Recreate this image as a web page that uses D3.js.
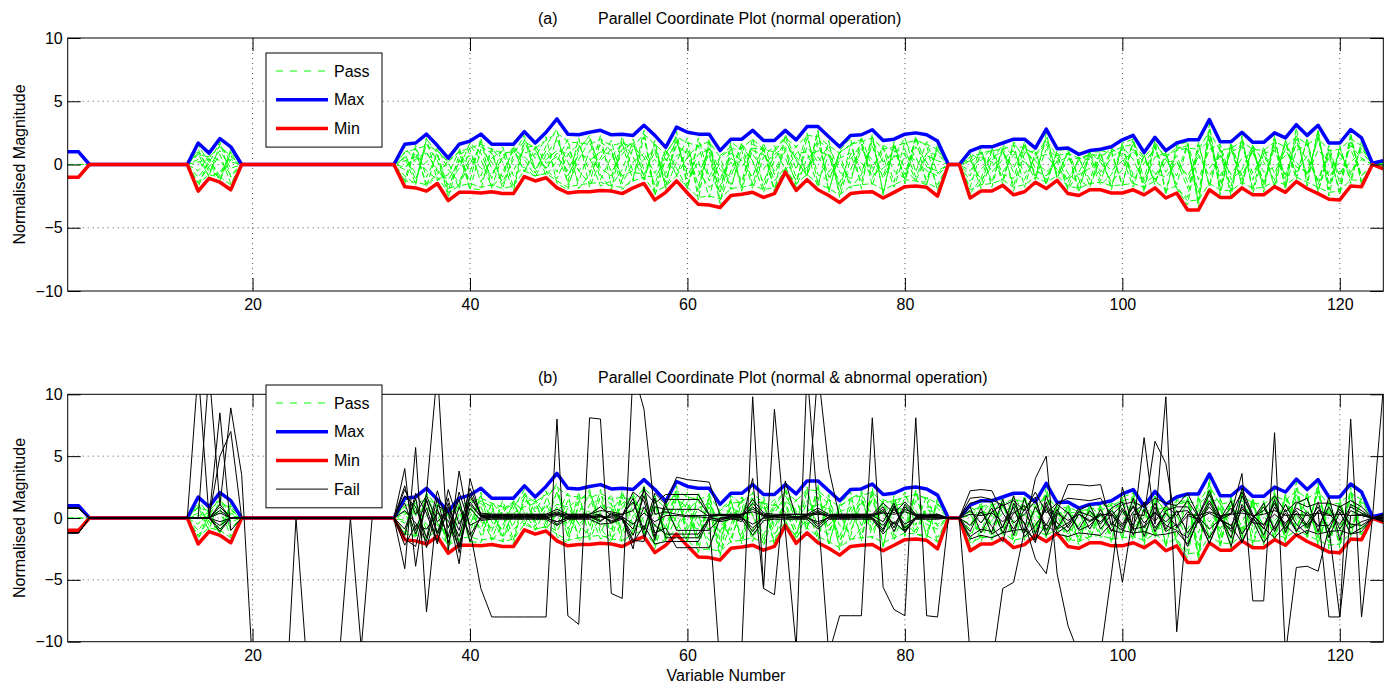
<!DOCTYPE html>
<html>
<head>
<meta charset="utf-8">
<script src="https://cdn.jsdelivr.net/npm/d3@7"></script>
<style>
  body { margin: 0; background: #fff; }
  text { font-family: "Liberation Sans", Arial, sans-serif; fill: #000; }
</style>
</head>
<body>
<div id="chart"></div>
<script>
// variable numbers on the x axis
var variables = d3.range(3, 125);
var xTicks = [20, 40, 60, 80, 100, 120];
var yTicks = [-10, -5, 0, 5, 10];

// envelope of the normal (pass) records
var maxLine = [1.0, 1.0, 0,0,0,0,0,0,0,0,0,0, 1.7, 0.9, 2.05, 1.4, 0,0,0,0,0,0,0,0,0,0,0,0,0,0,0,
  1.6, 1.7, 2.4, 1.5, 0.5, 1.6, 1.85, 2.4, 1.6, 1.6, 1.6, 2.6, 1.7, 2.55, 3.6, 2.4, 2.35, 2.55, 2.7, 2.35,
  2.4, 2.3, 3.1, 2.3, 1.35, 2.95, 2.55, 2.4, 2.4, 1.1, 2.0, 2.0, 2.7, 1.9, 1.9, 2.7, 1.95, 3.0, 3.0, 2.2,
  1.4, 2.3, 2.35, 2.75, 1.9, 2.0, 2.4, 2.5, 2.35, 1.85,
  0, 0,
  1.05, 1.4, 1.4, 1.7, 2.0, 2.0, 1.3, 2.8, 1.25, 1.3, 0.8, 1.1, 1.2, 1.4, 1.95, 2.3, 0.95, 2.15, 1.1, 1.7,
  1.95, 1.95, 3.55, 1.8, 1.8, 2.55, 1.75, 1.75, 2.5, 2.1, 3.15, 2.3, 3.1, 1.7, 1.7, 2.75, 2.1,
  0.1, 0.3];
var minLine = [-1.0, -1.0, 0,0,0,0,0,0,0,0,0,0, -2.1, -1.1, -1.4, -2.0, 0,0,0,0,0,0,0,0,0,0,0,0,0,0,0,
  -1.75, -1.85, -2.1, -1.5, -2.85, -2.2, -2.2, -2.25, -2.15, -2.3, -2.3, -0.95, -1.3, -1.05, -1.85, -2.25, -2.15, -2.15, -2.05, -2.1,
  -2.3, -1.85, -1.5, -2.8, -2.2, -1.3, -2.25, -3.15, -3.2, -3.4, -2.45, -2.35, -2.2, -2.6, -2.3, -0.6, -2.05, -1.2, -2.0, -2.45,
  -3.0, -2.3, -2.2, -2.15, -2.65, -2.2, -1.75, -1.7, -1.8, -2.5,
  0, 0,
  -2.65, -2.1, -2.1, -1.65, -2.4, -2.15, -1.4, -1.9, -1.25, -2.3, -2.45, -2.0, -2.0, -2.25, -2.25, -2.0, -2.4, -1.85, -2.65, -2.25,
  -3.6, -3.6, -2.0, -2.6, -2.6, -1.85, -2.4, -2.4, -1.75, -2.2, -1.35, -1.9, -2.3, -2.75, -2.8, -1.7, -1.75,
  0, -0.35];

// individual pass records
var pass1 = [1, 1, 0,0,0,0,0,0,0,0,0,0, 1.2, -0.6, 0.8, -1.5, 0,0,0,0,0,0,0,0,0,0,0,0,0,0,0,
  0.9, -1.2, 1.6, 0.3, -2.1, 0.8, 1.2, -1.4, 0.5, 1.1, -1.8, 2.0, -0.7, 1.5, 2.8, -1.6, 0.4, 1.9, -1.2, 0.6,
  1.7, -1.3, 2.2, -2.1, 0.9, 2.1, -1.5, 0.3, -2.6, 0.7, 1.4, -1.8, 2.1, -1.9, 1.2, 2.2, -0.4, 2.5, -1.5, 0.8,
  -2.2, 1.6, 2.0, -1.7, 1.3, -1.4, 1.8, 0.6, -1.2, 1.1,
  0, 0,
  -1.8, 1.0, -1.4, 1.2, -1.7, 1.5, -0.9, 2.1, -0.8, 0.9, -1.9, 0.7, -1.3, 1.1, -1.6, 1.8, -1.9, 1.5, -2.1, 1.2,
  1.5, -3.0, 2.8, -2.1, 1.4, -1.2, 1.3, -1.9, 2.0, -1.5, 2.4, -1.3, 2.6, -2.0, 1.3, -1.2, 1.6,
  0, 0.2];
var pass2 = [-1, -1, 0,0,0,0,0,0,0,0,0,0, -1.8, 0.5, -1.2, 0.9, 0,0,0,0,0,0,0,0,0,0,0,0,0,0,0,
  -1.5, 1.3, -1.8, 1.1, 0.2, -1.9, 1.5, 0.4, -1.8, 0.7, 1.3, -0.6, 1.4, -0.9, 0.3, 2.0, -1.9, -0.8, 2.3, -1.7,
  -0.4, 1.8, -1.2, 1.6, -1.9, 0.2, 2.1, -2.8, 1.8, -2.9, -0.5, 1.7, -1.6, 1.4, -2.0, -0.3, 1.5, -0.9, 2.6, -2.1,
  0.9, -1.9, -0.8, 2.2, -2.3, 1.6, -1.2, 2.0, 1.5, -2.1,
  0, 0,
  0.8, -1.6, 1.1, -1.2, 1.6, -1.8, 1.0, -1.5, 0.9, -1.9, 0.6, -1.7, 0.9, -1.8, 1.7, -1.5, 0.7, -1.4, 0.8, -1.9,
  -3.2, 1.6, -1.6, 1.5, -2.2, 2.1, -2.0, 1.4, -1.9, 1.7, -1.2, 2.1, -2.1, 1.2, -2.4, 2.2, -1.4,
  0, -0.2];
var pass3 = [0, 0, 0,0,0,0,0,0,0,0,0,0, 0.4, -0.9, 1.6, 0.2, 0,0,0,0,0,0,0,0,0,0,0,0,0,0,0,
  0.3, 0.6, -0.5, -1.2, -0.8, 1.1, -0.6, 1.8, -0.3, -1.4, 0.4, 0.9, 1.2, -0.5, -1.1, 0.8, 1.6, -0.6, 0.5, 1.9,
  -1.5, 0.2, 0.9, -0.7, 1.1, -0.9, 0.6, 1.5, -1.3, 0.1, -1.6, 0.6, 0.8, -0.4, 1.1, 0.5, -1.3, 1.4, 0.2, 1.5,
  -0.6, -1.1, 1.2, 0.4, -0.9, 1.4, -0.3, -1.3, 0.7, 0.3,
  0, 0,
  0.2, 0.9, -0.6, 0.4, 1.1, -0.7, 0.5, 0.8, -0.4, -1.1, 0.3, 0.8, -0.9, 0.6, 1.2, -0.8, 0.1, 1.3, -0.6, 0.7,
  -1.4, 1.1, 1.9, -0.9, 1.0, 1.4, -0.7, 0.9, 1.1, -0.8, 1.6, 0.4, -1.2, 1.0, -0.9, 1.5, 0.5,
  0, 0.1];
var pass4 = [-1, -1, 0,0,0,0,0,0,0,0,0,0, 1.5, 0.2, -1.3, 1.2, 0,0,0,0,0,0,0,0,0,0,0,0,0,0,0,
  -0.9, -1.6, 2.1, -1.3, 0.4, 1.4, -1.9, -2.0, 1.3, 0.2, -2.1, 1.7, 0.5, 2.2, -1.5, -2.0, 1.2, 2.3, -0.8, -2.0,
  1.9, 0.6, -1.3, 1.9, -1.8, 2.6, -1.9, 1.8, 0.8, -3.1, 1.5, -2.1, 1.3, 1.2, -2.2, 2.4, 0.3, -0.8, 2.7, -2.2,
  1.1, 2.1, -1.9, 2.4, -2.4, 1.8, -1.5, 2.2, -1.6, 1.6,
  0, 0,
  -2.3, -1.1, 1.2, -1.5, 1.8, 0.4, -1.2, 2.5, -1.1, 1.1, -2.2, 1.0, 1.0, -2.0, 1.7, 2.0, -2.2, 1.9, -2.4, 1.5,
  1.8, -3.4, 3.2, -2.4, 1.6, -1.7, 1.6, -2.2, 2.3, -2.0, 2.9, -1.7, 2.8, -2.5, 1.5, -1.5, 1.9,
  0, 0.3];
var pass5 = [1, 1, 0,0,0,0,0,0,0,0,0,0, -0.5, 0.7, 0.3, -0.8, 0,0,0,0,0,0,0,0,0,0,0,0,0,0,0,
  1.4, 0.2, 0.9, -0.4, -1.6, -0.3, 1.7, 0.9, -1.1, 1.4, -0.9, -0.2, -1.0, 0.8, 1.9, 0.2, -1.3, 1.1, 1.5, -0.6,
  0.8, 2.0, -0.4, 0.4, -0.7, 1.5, 0.9, -2.2, 2.0, -1.8, 0.9, 0.3, -1.0, 1.7, -0.8, 1.1, -1.6, 2.2, -0.8, -1.3,
  1.0, 1.5, -0.6, 1.5, -1.1, 0.7, 2.1, -0.6, 1.8, -0.7,
  0, 0,
  0.9, 0.3, 1.3, -0.8, -1.1, 1.8, -1.1, 1.2, 0.6, -1.4, 0.5, -1.2, 1.1, 0.9, -1.7, 2.1, -1.3, 0.6, 0.9, -1.6,
  1.6, -2.8, 2.4, -1.4, 1.7, -0.9, 1.1, -1.4, 1.7, -1.1, 2.0, -0.9, 2.2, -1.6, 1.0, -0.8, 1.3,
  0, -0.1];
var pass6 = [-1, -1, 0,0,0,0,0,0,0,0,0,0, 0.9, -1.0, -0.6, 0.6, 0,0,0,0,0,0,0,0,0,0,0,0,0,0,0,
  -1.2, 1.5, -1.0, 0.8, -2.6, 0.4, -1.3, 2.1, -1.9, -0.6, 1.1, -0.5, 0.9, -0.3, 0.9, -1.4, 2.1, -1.8, 0.3, 1.2,
  -2.0, -1.1, 2.7, -2.5, 0.5, -0.8, 1.3, -1.7, 1.0, -2.3, 1.8, 1.1, -1.9, 0.6, 1.5, -0.5, 0.9, 1.0, -1.8, 1.9,
  -2.6, 0.4, 1.6, -1.1, 0.6, -1.8, 0.8, -1.3, -1.6, 1.4,
  0, 0,
  -0.9, 1.3, -1.8, 1.5, -2.1, 0.9, 1.1, -1.6, 1.1, 1.2, -1.2, -1.8, 0.5, 1.3, 0.6, -1.8, 0.8, -1.6, 1.0, -2.0,
  -2.6, 1.8, -1.8, 1.2, -2.5, 2.3, -2.3, 0.9, -1.6, 1.9, -0.9, 1.9, -2.2, 0.8, -2.1, 2.5, -1.6,
  0, 0.1];
var pass7 = [1, 1, 0,0,0,0,0,0,0,0,0,0, -1.4, -0.2, 1.1, -0.3, 0,0,0,0,0,0,0,0,0,0,0,0,0,0,0,
  0.6, -0.7, 0.2, 1.3, -0.4, -1.4, 0.5, -0.9, 1.2, -1.9, 0.8, 2.3, -0.4, 1.1, -0.6, 1.4, -0.5, -1.5, 1.8, 1.1,
  -1.2, 1.3, 0.6, -1.6, 1.2, -0.3, -1.9, 2.1, -1.0, 0.6, -2.0, 1.4, 0.3, -2.2, 0.4, 1.8, 0.4, -0.9, 1.7, -1.0,
  0.3, -1.5, 2.2, -0.3, 1.4, -0.5, -1.1, 1.4, 0.2, -1.6,
  0, 0,
  -1.3, -0.4, 0.6, 1.0, -0.6, -1.2, 0.7, 1.7, -1.0, 0.4, 0.5, 0.4, -1.6, -0.8, 1.4, 0.4, -1.5, -0.9, 0.5, 1.4,
  1.2, -2.2, 2.0, -1.8, 1.2, -1.5, 1.4, -1.6, 1.4, -1.8, 1.1, 1.6, -1.6, 1.5, -1.5, 1.9, -0.9,
  0, 0.2];
var pass8 = [-1, -1, 0,0,0,0,0,0,0,0,0,0, 0.2, 0.4, -0.9, 1.0, 0,0,0,0,0,0,0,0,0,0,0,0,0,0,0,
  -0.4, 0.9, -1.5, -0.8, 0.3, 1.0, -2.0, 1.2, 0.2, -1.0, 1.4, 0.4, -0.9, -0.7, 2.2, -0.9, 0.8, 0.5, -1.7, -1.3,
  2.2, -0.6, -0.8, 1.0, -1.4, 1.8, -0.6, -0.9, 1.3, -1.2, 0.2, -1.3, 1.6, 1.1, -1.3, -0.2, -1.8, 0.5, 1.1, 0.7,
  -1.5, 0.8, -1.4, 1.9, 0.2, 1.0, 1.2, -1.0, 0.9, 0.8,
  0, 0,
  0.5, -1.9, 0.3, 1.6, 0.6, 0.2, -0.5, -0.9, 0.3, -2.0, -0.6, 1.0, 0.2, -1.4, -0.4, 1.2, 0.5, -1.2, 0.2, 0.3,
  -1.9, 0.8, -0.9, 0.7, -1.7, 1.7, -1.2, 1.2, -0.7, 1.2, -0.6, 0.7, -1.4, -0.6, 0.9, -0.6, 0.4,
  0, 0];
var pass9 = [1, 1, 0,0,0,0,0,0,0,0,0,0, 0.8, 0.6, 1.4, 0.7, 0,0,0,0,0,0,0,0,0,0,0,0,0,0,0,
  1.0, 1.2, 1.5, 1.1, 0.2, 1.0, 1.3, 1.6, 1.2, 0.9, 1.0, 1.8, 1.3, 1.9, 2.5, 1.8, 1.7, 1.6, 2.0, 1.5,
  1.7, 1.4, 2.4, 1.6, 0.8, 2.2, 1.7, 1.5, 1.8, 0.6, 1.2, 1.3, 2.0, 1.2, 1.0, 2.1, 1.4, 2.3, 2.2, 1.5,
  0.9, 1.6, 1.8, 2.1, 1.2, 1.4, 1.7, 1.9, 1.6, 1.2,
  0, 0,
  0.6, 0.9, 1.1, 1.2, 1.5, 1.3, 0.8, 1.9, 0.7, 0.9, 0.5, 0.8, 0.7, 1.0, 1.4, 1.6, 0.6, 1.5, 0.7, 1.1,
  1.3, 1.2, 2.6, 1.1, 1.3, 1.8, 1.2, 1.1, 1.8, 1.4, 2.2, 1.6, 2.1, 1.1, 1.2, 2.0, 1.5,
  0, 0.2];
var pass10 = [-1, -1, 0,0,0,0,0,0,0,0,0,0, -1.5, -0.8, -1.0, -1.6, 0,0,0,0,0,0,0,0,0,0,0,0,0,0,0,
  -1.3, -1.4, -1.6, -1.0, -2.2, -1.7, -1.5, -1.8, -1.6, -1.9, -1.7, -0.5, -0.9, -0.7, -1.3, -1.8, -1.6, -1.5, -1.4, -1.7,
  -1.8, -1.3, -1.0, -2.2, -1.7, -0.9, -1.8, -2.6, -2.5, -2.7, -1.9, -1.8, -1.6, -2.0, -1.8, -0.4, -1.5, -0.8, -1.5, -1.9,
  -2.4, -1.7, -1.6, -1.5, -2.0, -1.6, -1.2, -1.3, -1.4, -1.9,
  0, 0,
  -2.0, -1.6, -1.5, -1.2, -1.8, -1.6, -1.0, -1.4, -0.9, -1.7, -1.9, -1.5, -1.4, -1.7, -1.6, -1.5, -1.8, -1.3, -2.0, -1.7,
  -2.9, -2.8, -1.5, -2.0, -2.1, -1.4, -1.9, -1.8, -1.3, -1.6, -1.0, -1.4, -1.8, -2.2, -2.1, -1.2, -1.3,
  0, -0.2];
var pass11 = [0, 0, 0,0,0,0,0,0,0,0,0,0, 1.0, -0.3, -1.1, 0.4, 0,0,0,0,0,0,0,0,0,0,0,0,0,0,0,
  -0.2, 0.4, 1.0, -0.6, -1.2, 0.2, 0.7, -0.3, -0.8, 0.5, 1.2, 0.6, -0.2, 0.4, 1.1, 0.9, -0.5, 0.3, 1.0, 0.8,
  -0.9, -0.5, 0.4, 1.2, -1.0, 0.7, 1.1, -0.5, -1.8, -1.1, 0.5, -0.2, 1.1, 0.8, -0.5, 1.3, -1.0, -0.2, 0.6, -0.6,
  0.5, 0.9, 0.1, -0.8, -0.3, 0.6, 0.9, 0.3, -0.5, -0.9,
  0, 0,
  -0.5, 0.6, 0.2, -0.6, 0.8, 1.0, 0.3, -0.6, 0.2, 0.6, -0.8, -0.3, 0.4, -0.5, 0.3, 1.0, 0.2, -0.7, -1.0, 0.2,
  -0.9, 0.6, -0.3, 0.8, -0.8, 0.5, 0.9, -0.6, -0.2, 0.7, 0.2, -0.8, 1.1, 0.4, -0.6, 0.2, 1.0,
  0, 0];
var pass12 = [1, 1, 0,0,0,0,0,0,0,0,0,0, -1.0, 0.1, 1.8, -1.0, 0,0,0,0,0,0,0,0,0,0,0,0,0,0,0,
  0.5, -1.5, 2.0, 0.9, -1.9, -1.6, 0.1, 1.4, 0.9, -1.5, -0.5, 1.3, 1.5, 0.1, 0.6, -0.5, 1.4, 2.1, -0.3, -0.9,
  1.2, 1.7, -0.9, -1.0, 0.2, 1.9, -0.9, 0.8, 1.2, -0.4, -1.0, 1.7, 0.2, -1.4, 0.8, 1.4, 0.6, -0.5, 2.0, 1.1,
  -1.8, -0.4, 1.4, -0.6, 1.5, 1.1, -0.8, 2.2, -0.2, -0.5,
  0, 0,
  0.3, -1.2, -0.2, 0.9, -0.3, 1.6, -0.3, -1.2, 1.0, -0.7, -1.5, 1.0, -0.6, 1.2, 0.8, -1.0, -1.1, 1.8, 0.4, -0.9,
  1.7, -1.2, 1.2, 1.6, -1.2, -0.4, 1.5, 0.2, -1.2, 1.9, -0.2, -0.6, 2.0, -1.0, 0.3, 1.2, -0.9,
  0, 0.1];
var passLines = [pass1, pass2, pass3, pass4, pass5, pass6, pass7, pass8, pass9, pass10, pass11, pass12];

// abnormal (fail) records
var fail1 = [0.8, 0.8, 0,0,0,0,0,0,0,0,0,0, 0, 0, 1.1, 0, 0,0,0,0,0,0,0,0,0,0,0,0,0,0,0,
  1.8, 0.9, -1.6, 2.2, -0.8, 1.5, -1.9, 0.2, 0.2, 0.2, 0.2, 0.2, 0.2, 0.2, 0.5, 0.2, 0.2, 0.2, 0.3, -0.4,
  0.2, 2.1, 1.4, -1.8, 1.5, 1.5, 1.5, 1.5, 0.2, 0.3, 0.2, 0.2, 1.2, 0.2, 0.2, 0.2, 0.1, 0.2, 0.6, 0.2,
  0.2, 0.2, 0.2, 0.2, 0.9, -0.8, 1.1, 0.2, 0.1, 0.2,
  0, 0,
  1.2, 1.4, 1.3, -0.8, 1.8, -1.2, 0.9, -0.6, 1.1, 0.4, -0.9, 0.6, -0.5, 0.8, 1.3, -1.4, 0.7, -0.3, 1.0, 0.2,
  1.4, 0.1, 1.9, 0.1, -1.6, 1.8, 0.1, -1.4, 0.9, -0.6, 0.8, 0.3, -0.7, 0.9, -0.9, 0.6, 0.2,
  0, -0.2];
var fail2 = [-1.2, -1.2, 0,0,0,0,0,0,0,0,0,0, 0, 0, -1.1, 0, 0,0,0,0,0,0,0,0,0,0,0,0,0,0,0,
  -1.7, -2.3, 1.4, -1.2, 1.6, -2.2, 1.3, 0.1, 0.1, 0.1, 0.1, 0.1, 0.1, 0.1, -0.5, 0.1, 0.1, 0.1, -0.3, 0.4,
  0.1, -1.8, -1.9, 1.6, -1.6, -1.6, -1.6, -1.6, 0.1, -0.2, 0.1, 0.1, -1.1, 0.1, 0.1, 0.0, 0.1, 0.1, -0.7, 0.1,
  0.1, 0.1, 0.1, 0.0, -1.1, 1.0, -1.2, 0.1, 0.1, 0.0,
  0, 0,
  -1.5, -0.9, -1.1, 1.5, -1.4, 1.6, -1.3, 1.0, -1.2, -0.6, 0.8, -0.9, 0.7, -1.0, -1.2, 1.6, -1.5, 0.9, -1.1, -0.5,
  -2.3, 0.0, -1.6, -0.1, 1.4, -1.9, -0.1, 1.2, -1.1, 0.7, -1.0, -0.4, 0.9, -1.0, 1.0, -0.8, -0.3,
  0, 0.1];
var fail3 = [0.8, 0.8, 0,0,0,0,0,0,0,0,0,0, 0, 0, 0.6, 0, 0,0,0,0,0,0,0,0,0,0,0,0,0,0,0,
  1.2, -1.3, 0.8, -1.9, 0.9, -1.0, 2.4, 0.3, 0.3, 0.3, 0.3, 0.3, 0.3, 0.3, 0.3, 0.3, 0.3, 0.3, 0.9, 0.2,
  0.3, 1.3, -1.0, 2.0, 1.1, 3.3, 3.1, 3.0, 2.9, 0.2, 0.3, 0.3, 0.7, 0.3, 0.2, 0.3, 0.3, 0.3, 0.4, 0.2,
  0.3, 0.3, 0.3, 0.3, 0.5, -0.5, 0.7, 0.3, 0.2, 0.3,
  0, 0,
  2.2, 2.3, 2.2, 0.4, -0.9, 0.7, 1.7, -1.4, 0.5, 2.7, 2.7, 2.6, 2.7, -0.6, 0.8, -0.6, 1.3, -1.1, 0.6, 0.9,
  0.9, -0.4, 1.2, -0.2, -0.9, 2.4, 0.3, -0.9, 1.5, -1.2, 1.2, 1.6, -1.1, 1.7, -1.8, 1.1, 0.6,
  0, -0.3];
var fail4 = [-1.2, -1.2, 0,0,0,0,0,0,0,0,0,0, 0, 0, -0.6, 0, 0,0,0,0,0,0,0,0,0,0,0,0,0,0,0,
  -0.9, 1.6, -2.4, 0.7, -1.5, 2.1, -0.6, -0.1, 0.0, 0.0, 0.0, 0.0, 0.0, 0.0, 0.2, 0.0, 0.0, 0.0, 0.1, -0.2,
  0.0, -0.9, 1.8, -1.2, -0.8, -2.4, -2.4, -2.4, -2.4, 0.0, 0.1, 0.0, -0.5, 0.0, 0.1, 0.0, 0.0, 0.0, -0.3, 0.0,
  0.0, 0.0, 0.1, 0.0, -0.6, 0.7, -0.5, 0.0, 0.0, 0.1,
  0, 0,
  -0.6, 0.5, -0.7, -1.9, 1.2, -0.5, -2.0, 1.8, -0.4, -1.1, 0.3, -0.3, 0.2, 0.4, -0.7, 1.0, -0.4, 0.5, -0.6, -1.0,
  -1.6, 0.2, -2.1, 0.2, -2.3, 1.1, -0.2, -2.0, -0.7, 1.1, -0.5, -1.3, 1.3, -1.6, 0.5, -1.3, -0.8,
  0, 0.3];
var fail5 = [0.8, 0.8, 0,0,0,0,0,0,0,0,0,0, 12, 0, 8.5, -1, 0,0,0,0,0,0,0,0,0,0,0,0,0,0,0,
  4.0, -3.9, 2.0, 12, -2.6, 3.8, -1.0, -5.7, -8.0, -8.0, -8.0, -8.0, -8.0, -8.0, 8.0, -7.9, -8.6, 8.1, 8.0, -6.1,
  -6.5, 12, 8.8, 0.3, 0.5, 0.3, 0.2, 0.2, 0.2, 0.2, 0.2, 0.3, 0.5, 0.2, 0.2, 0.2, 0.3, 0.2, 0.3, 0.2,
  0.2, 0.2, 0.2, 0.2, 0.4, 0.3, 0.5, 0.2, 0.2, 0.2,
  0, 0,
  -11, -13, -12, -5.7, -5.2, -1.0, 3.2, 5.0, -4.5, -8.7, -11, -14, -11, -4.5, 2.5, -1.0, 6.5, -0.5, 9.8, -9.2,
  0.3, 0.2, 0.5, 0.2, 0.3, 0.4, 0.2, 0.3, 0.6, 0.2, 0.3, 0.2, 0.4, 0.2, 0.3, 0.2, 0.2,
  0, 0];
var fail6 = [-1.2, -1.2, 0,0,0,0,0,0,0,0,0,0, 0, 12, 1.0, 8.9,
  3.5, -12, -15, -15, -16, 0, -12, -15, -15, -11, 0, -10.5, 0, 0, 0,
  -4.1, 5.7, -7.6, 1.0, 0.5, -3.7, 3.2, 0.1, 0.1, 0.1, 0.1, 0.1, 0.1, 0.1, 0.3, 0.1, 0.1, 0.1, 0.1, 0.1,
  0.1, -0.5, 0.4, -0.3, 0.2, 0.2, 0.1, 0.1, 0.0, -12, -13, -10.5, 9.8, -5.7, 8.8, -1.0, -10.5, 12, 0.5, -11,
  -7.9, -7.9, -7.9, 8.1, -5.6, -7.4, -7.9, 8.1, -7.9, -8.0,
  0, 0,
  0.3, 0.2, 0.4, -0.3, 0.5, -0.4, -3.3, -4.5, 0.4, -0.2, 0.3, -0.2, 0.3, 0.2, -5.2, 0.3, 0.2, 6.2, 4.4, -0.8,
  0.2, -0.1, 0.4, -0.1, 0.3, 3.6, -6.7, -6.7, 6.9, -11, -4.0, -3.9, -4.3, -0.8, -8.0, 8.0, -8.0,
  0, 10.5];
var fail7 = [0.8, 0.8, 0,0,0,0,0,0,0,0,0,0, 0, 0, 5.0, 7.0, 0,0,0,0,0,0,0,0,0,0,0,0,0,0,0,
  2.6, -1.0, 1.5, -1.4, 1.2, -2.8, 2.0, 0.2, 0.0, 0.0, 0.0, 0.0, 0.0, 0.0, -0.3, 0.0, 0.0, 0.0, 0.2, 0.0,
  0.0, -2.5, 2.5, -1.5, 1.0, -1.0, -1.0, -1.0, -1.0, 0.0, 0.0, -0.3, 3.2, -5.7, -6.2, 3.0, 0.0, 0.2, 12, 4.0,
  0.0, 0.1, 0.0, 0.2, -0.3, 1.2, -1.0, 0.0, 0.1, 0.0,
  0, 0,
  0.6, -0.4, 0.8, -1.2, 0.4, 1.0, -1.8, 1.3, -0.9, -0.4, 0.5, 0.2, -0.3, 0.6, -0.5, 0.9, -0.8, 0.4, -0.3, 0.5,
  0.6, -0.3, 0.9, -0.2, -0.6, 0.9, -0.4, -0.5, 0.3, -0.4, 0.6, -0.6, 0.5, -8.0, -8.0, 0.2, 0.3,
  0, -0.1];
var fail8 = [0.8, 0.8, 0,0,0,0,0,0,0,0,0,0, 0, 0, 0.9, 0, 0,0,0,0,0,0,0,0,0,0,0,0,0,0,0,
  -1.4, 2.0, 0.4, -2.1, 2.3, -0.5, 1.1, 0.1, 0.1, 0.2, 0.1, 0.1, 0.2, 0.1, 0.4, 0.1, 0.1, 0.2, -0.2, 0.3,
  0.1, 1.6, -1.5, 0.9, 0.7, 0.7, 0.7, 0.7, 0.1, 0.2, 0.1, 0.1, 0.9, 0.1, 0.1, 0.2, 0.1, 0.1, -0.5, 0.1,
  0.1, 0.1, 0.1, 0.1, 0.7, -1.1, 0.9, 0.1, 0.2, 0.1,
  0, 0,
  0.9, -1.2, 0.5, 1.1, -0.4, 0.3, 1.4, -1.0, 0.7, -0.8, 0.6, 1.1, -0.9, 0.3, -0.9, 0.5, 1.1, -0.8, 0.4, -0.7,
  0.5, -0.1, 1.4, 0.0, -1.1, 0.7, 0.2, -0.6, 1.2, -0.9, 0.4, -0.8, 0.6, 0.3, -0.5, 0.9, 0.4,
  0, 0];
var fail9 = [-1.2, -1.2, 0,0,0,0,0,0,0,0,0,0, 0, 0, -0.9, 0, 0,0,0,0,0,0,0,0,0,0,0,0,0,0,0,
  0.6, -0.4, -1.9, 1.6, -2.0, 0.9, -1.4, 0.0, 0.1, 0.0, 0.0, 0.1, 0.0, 0.0, -0.3, 0.0, 0.0, 0.1, 0.2, -0.3,
  0.0, -1.4, 0.9, -0.6, -1.3, -1.3, -1.3, -1.3, 0.0, -0.1, 0.0, 0.0, -0.8, 0.0, 0.0, 0.1, 0.0, 0.0, 0.5, 0.0,
  0.0, 0.0, 0.0, 0.0, -0.9, 0.9, -0.8, 0.0, 0.0, 0.0,
  0, 0,
  -1.1, 0.8, -1.3, -0.7, 0.9, -1.5, -0.6, 0.7, -0.8, 0.5, -1.0, -0.6, 0.4, -1.1, 0.6, -0.9, -0.7, 1.2, -0.9, 0.6,
  -1.2, 0.1, -0.9, -0.1, 0.8, -1.3, 0.0, 0.9, -0.9, 0.4, -1.1, 0.5, -0.6, -0.6, 0.7, -0.5, -0.6,
  0, 0.2];
var fail10 = [0.8, 0.8, 0,0,0,0,0,0,0,0,0,0, 0, 0, 0.4, 0, 0,0,0,0,0,0,0,0,0,0,0,0,0,0,0,
  2.3, 0.3, 1.8, -0.3, 0.5, -1.5, 1.7, 0.4, 0.3, 0.3, 0.3, 0.3, 0.3, 0.3, 0.7, 0.3, 0.3, 0.3, 0.6, 0.5,
  0.3, 0.6, 2.2, 1.2, 1.9, 1.9, 1.9, 1.9, 0.3, 0.3, 0.3, 0.3, 1.5, 0.4, 0.3, 0.3, 0.3, 0.3, 0.8, 0.3,
  0.3, 0.3, 0.3, 0.3, 1.2, 0.4, 1.3, 0.3, 0.3, 0.3,
  0, 0,
  1.6, 1.7, 1.5, 1.0, 1.4, 0.6, 2.1, 0.4, 1.2, 1.6, 1.5, 1.4, 1.6, 0.2, 1.1, 1.3, 0.9, 1.6, 1.2, 1.0,
  2.0, 0.2, 2.2, 0.1, 0.4, 2.1, 0.1, 0.6, 1.8, 0.5, 1.3, 0.9, 1.2, 1.2, 0.9, 1.4, 0.9,
  0, -0.2];
var fail11 = [-1.2, -1.2, 0,0,0,0,0,0,0,0,0,0, 0, 0, -0.3, 0, 0,0,0,0,0,0,0,0,0,0,0,0,0,0,0,
  -2.2, -0.6, -0.9, 0.4, -0.2, -2.4, 0.8, -0.2, -0.1, -0.1, -0.1, -0.1, -0.1, -0.1, -0.6, -0.1, -0.1, -0.1, -0.5, -0.4,
  -0.1, -2.0, -0.6, -2.1, -1.9, -1.9, -1.9, -1.9, -0.1, -0.3, -0.1, -0.1, -1.4, -0.2, -0.1, -0.1, -0.1, -0.1, -0.9, -0.1,
  -0.1, -0.1, -0.1, -0.1, -1.3, -0.3, -1.1, -0.1, -0.1, -0.1,
  0, 0,
  -1.7, -1.4, -1.6, -1.2, -1.0, -0.9, -1.8, -0.5, -1.3, -1.5, -1.2, -1.3, -1.4, -0.4, -1.0, -1.2, -1.1, -1.4, -1.3, -1.1,
  -2.1, -0.2, -2.0, -0.1, -0.6, -2.0, -0.1, -0.8, -1.6, -0.6, -1.4, -1.0, -1.3, -1.1, -1.0, -1.3, -1.1,
  0, 0.1];
var failLines = [fail1, fail2, fail3, fail4, fail5, fail6, fail7, fail8, fail9, fail10, fail11];

[maxLine, minLine].concat(passLines, failLines).forEach(function (a, i) {
  if (a.length !== variables.length) throw new Error("series " + i + " has " + a.length + " values");
});

var W = 1384, H = 686;
var svg = d3.select("#chart").append("svg").attr("width", W).attr("height", H);

var x = d3.scaleLinear().domain([3, 124]).range([67.7, 1383.3]);
var left = x.range()[0], right = x.range()[1];

function drawPanel(id, top, bottom, label, title, titleY, withFail, legendTop) {
  var y = d3.scaleLinear().domain([-10, 10]).range([bottom, top]);
  var g = svg.append("g");

  g.append("clipPath").attr("id", "clip" + id)
    .append("rect").attr("x", left).attr("y", top).attr("width", right - left).attr("height", bottom - top);

  // dotted grid
  g.selectAll(".vgrid").data(xTicks).enter().append("line")
    .attr("x1", function (d) { return x(d); }).attr("x2", function (d) { return x(d); })
    .attr("y1", top).attr("y2", bottom)
    .attr("stroke", "#555").attr("stroke-dasharray", "1,4");
  g.selectAll(".hgrid").data([-5, 0, 5]).enter().append("line")
    .attr("x1", left).attr("x2", right)
    .attr("y1", function (d) { return y(d); }).attr("y2", function (d) { return y(d); })
    .attr("stroke", "#555").attr("stroke-dasharray", "1,4");

  var line = d3.line()
    .x(function (d, i) { return x(variables[i]); })
    .y(function (d) { return y(d); });

  var plot = g.append("g").attr("clip-path", "url(#clip" + id + ")");
  plot.selectAll(".pass").data(passLines).enter().append("path")
    .attr("d", line).attr("fill", "none")
    .attr("stroke", "#00ff00").attr("stroke-width", 1).attr("stroke-dasharray", "6,3");
  plot.append("path").attr("d", line(maxLine)).attr("fill", "none")
    .attr("stroke", "#0000ff").attr("stroke-width", 3.5).attr("stroke-linejoin", "round");
  plot.append("path").attr("d", line(minLine)).attr("fill", "none")
    .attr("stroke", "#ff0000").attr("stroke-width", 3.5).attr("stroke-linejoin", "round");
  if (withFail) {
    plot.selectAll(".fail").data(failLines).enter().append("path")
      .attr("d", line).attr("fill", "none")
      .attr("stroke", "#000").attr("stroke-width", 1);
  }

  // axes with inward ticks on all four sides
  var tick = 13;
  g.append("g").attr("transform", "translate(0," + bottom + ")")
    .call(d3.axisBottom(x).tickValues(xTicks).tickSize(-tick).tickPadding(8));
  g.append("g").attr("transform", "translate(0," + top + ")")
    .call(d3.axisTop(x).tickValues(xTicks).tickSize(-tick).tickFormat(""));
  g.append("g").attr("transform", "translate(" + left + ",0)")
    .call(d3.axisLeft(y).tickValues(yTicks).tickSize(-tick).tickPadding(5));
  g.append("g").attr("transform", "translate(" + right + ",0)")
    .call(d3.axisRight(y).tickValues(yTicks).tickSize(-tick).tickFormat(""));
  g.selectAll(".domain").remove();
  g.selectAll(".tick line").attr("stroke", "#000");
  g.selectAll(".tick text").attr("font-size", 16).attr("font-family", "Liberation Sans, Arial, sans-serif");

  g.append("rect").attr("x", left).attr("y", top).attr("width", right - left).attr("height", bottom - top)
    .attr("fill", "none").attr("stroke", "#000").attr("stroke-width", 1);

  // title
  var t = g.append("text").attr("y", titleY).attr("font-size", 16);
  t.append("tspan").attr("x", 538).text(label);
  t.append("tspan").attr("x", 598).text(title);

  // y label
  g.append("text")
    .attr("transform", "translate(25," + ((top + bottom) / 2) + ") rotate(-90)")
    .attr("text-anchor", "middle").attr("font-size", 16)
    .text("Normalised Magnitude");

  // legend
  var entries = [
    { name: "Pass", color: "#00ff00", width: 1, dash: "7,7" },
    { name: "Max", color: "#0000ff", width: 3.5, dash: null },
    { name: "Min", color: "#ff0000", width: 3.5, dash: null }
  ];
  if (withFail) entries.push({ name: "Fail", color: "#000", width: 1, dash: null });
  var step = 28.7;
  var lg = g.append("g").attr("transform", "translate(266," + legendTop + ")");
  lg.append("rect").attr("width", 116).attr("height", entries.length * step + 8)
    .attr("fill", "#fff").attr("stroke", "#000").attr("stroke-width", 1);
  var it = lg.selectAll(".item").data(entries).enter().append("g")
    .attr("transform", function (d, i) { return "translate(0," + (18 + i * step) + ")"; });
  it.append("line").attr("x1", 10).attr("x2", 62)
    .attr("stroke", function (d) { return d.color; })
    .attr("stroke-width", function (d) { return d.width; })
    .attr("stroke-dasharray", function (d) { return d.dash; });
  it.append("text").attr("x", 68).attr("dy", "0.35em").attr("font-size", 16)
    .text(function (d) { return d.name; });
}

drawPanel("a", 38, 291, "(a)", "Parallel Coordinate Plot (normal operation)", 24, false, 53);
drawPanel("b", 394.3, 641.7, "(b)", "Parallel Coordinate Plot (normal & abnormal operation)", 383, true, 385);

svg.append("text").attr("x", 726).attr("y", 681).attr("text-anchor", "middle")
  .attr("font-size", 16).text("Variable Number");
</script>
</body>
</html>
